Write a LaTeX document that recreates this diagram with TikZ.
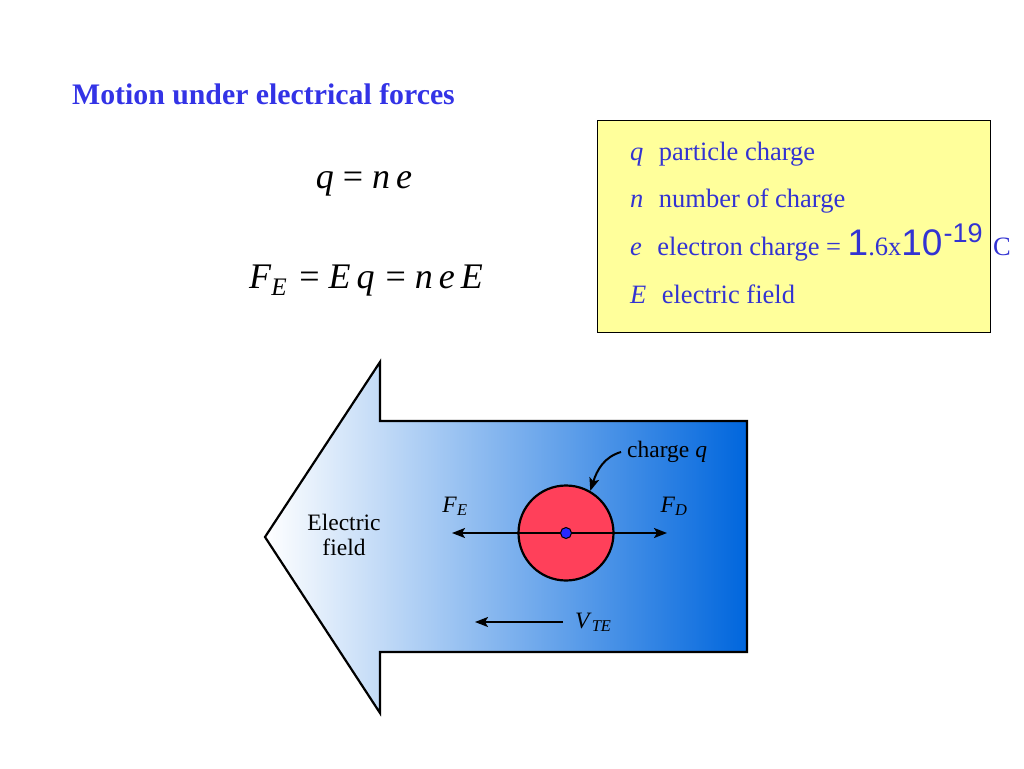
\documentclass[tikz,border=0pt]{standalone}
\usepackage{fontspec}
\setmainfont{Liberation Serif}
\newfontfamily\arialfont{Liberation Sans}
\usetikzlibrary{arrows,arrows.meta}
\definecolor{titleblue}{RGB}{51,51,230}
\definecolor{keyblue}{RGB}{51,51,210}
\definecolor{keyyellow}{RGB}{255,255,155}
\definecolor{chargered}{RGB}{255,64,90}
\definecolor{fieldblue}{RGB}{0,102,221}
\definecolor{dotblue}{RGB}{40,40,255}

\begin{document}
\begin{tikzpicture}[x=1pt,y=-1pt,
    keytext/.style={anchor=base west, inner sep=0, text=keyblue,
        font=\fontsize{26.5}{28}\selectfont},
    eqtext/.style={anchor=base, inner sep=0, font=\fontsize{36}{40}\selectfont},
    figtext/.style={inner sep=0, font=\fontsize{23.5}{25}\selectfont},
    outline/.style={line width=2.2pt, line join=miter},
    force/.style={line width=2pt, -{Stealth[length=13pt,width=10pt,inset=3pt]}}]
\useasboundingbox (0,0) rectangle (1024,768);

% title
\node[anchor=base west, inner sep=0, text=titleblue,
    font=\bfseries\fontsize{29.8}{32}\selectfont] (title) at (72,104)
    {Motion under electrical forces};

% equations
\node[eqtext] (eqq) at (364,188) {\textit{q} = \textit{n\,e}};
\node[eqtext] (eqf) at (366,288)
    {\textit{F}\textsubscript{\textit{E}}\hspace{3pt} = \textit{E\,q}\hspace{2pt} =
    \textit{n\,e\,E}};

% key box
\node[draw, fill=keyyellow, anchor=north west, minimum width=393,
    minimum height=212, inner sep=0] (keybox) at (597,120) {};
\node[keytext] (keyq) at (630,160) {\textit{q}\,\, particle charge};
\node[keytext] (keyn) at (630,207) {\textit{n}\,\, number of charge};
\node[keytext] (keye) at (630,255) {\textit{e}\,\, electron charge =
    {\arialfont\fontsize{37}{37}\selectfont 1}.6x{\arialfont\fontsize{37}{37}\selectfont
    10\hspace{1pt}\raisebox{13pt}{\fontsize{27}{27}\selectfont -19}}\hspace{4pt} C};
\node[keytext] (keyE) at (630,303) {\textit{E}\,\, electric field};

% field arrow
\draw[outline, left color=white, right color=fieldblue]
    (265,537) -- (380,362) -- (380,421) -- (747,421) -- (747,652)
    -- (380,652) -- (380,713) -- cycle;
\node[figtext, align=center] (field) at (344,535) {Electric\\field};

% particle and forces
\coordinate (fe) at (452,533);
\coordinate (fd) at (667,533);
\node[draw, outline, circle, fill=chargered, minimum size=95, inner sep=0]
    (charge) at (566,533) {};
\draw[force] (charge.center) -- (fe);
\draw[force] (charge.center) -- (fd);
\node[draw, line width=1pt, circle, fill=dotblue, minimum size=11, inner sep=0]
    (centre) at (charge.center) {};
\node[figtext, anchor=base] (lfe) at (455,512) {\textit{F}\textsubscript{\textit{E}}};
\node[figtext, anchor=base] (lfd) at (674,512) {\textit{F}\textsubscript{\textit{D}}};
\node[figtext, anchor=base west] (lq) at (627,457) {charge \textit{q}};
\coordinate (lqtail) at (621,452);
\draw[force] (lqtail) .. controls (604,457) and (597,470) .. (charge.60);

% drift velocity
\node[figtext, anchor=base west] (lv) at (575,628) {\textit{V}\textsubscript{\textit{TE}}};
\coordinate (vend) at (475,622);
\draw[force] (563,622) -- (vend);
\end{tikzpicture}
\end{document}
